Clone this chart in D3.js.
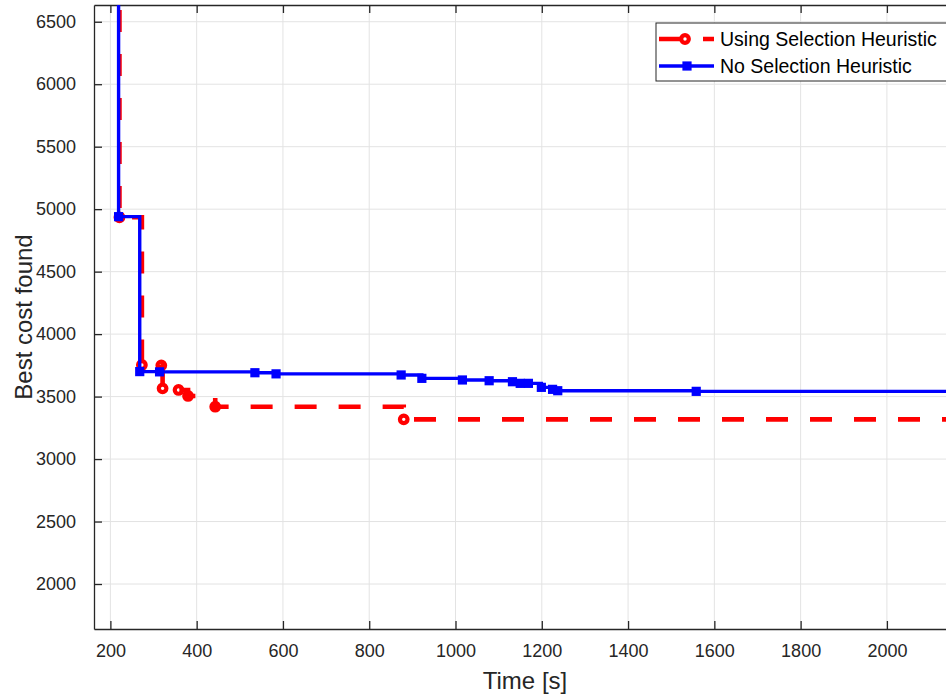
<!DOCTYPE html>
<html>
<head>
<meta charset="utf-8">
<script src="https://cdn.jsdelivr.net/npm/d3@7"></script>
<style>
  body { margin: 0; background: #fff; overflow: hidden; }
  svg { display: block; font-family: "Liberation Sans", Arial, sans-serif; }
</style>
</head>
<body>
<div id="chart"></div>
<script>
// data (time in s, best cost)
var seriesNames = ["Using Selection Heuristic", "No Selection Heuristic"];

var selTime = [220, 221, 273, 318, 321, 358, 380, 443, 880];
var selCost = [8000, 4935, 3753, 3750, 3566, 3553, 3505, 3419, 3318];

var noSelTime = [217, 219, 268, 314, 535, 584, 874, 922, 1016, 1078, 1132, 1150, 1169, 1199, 1225, 1237, 1558];
var noSelCost = [8000, 4940, 3700, 3698, 3691, 3682, 3673, 3646, 3633, 3627, 3619, 3606, 3606, 3574, 3558, 3547, 3542];

var xTicks = [200, 400, 600, 800, 1000, 1200, 1400, 1600, 1800, 2000];
var yTicks = [2000, 2500, 3000, 3500, 4000, 4500, 5000, 5500, 6000, 6500];

var W = 946, H = 698;
var box = {left: 94, right: 946, top: 5, bottom: 629};
var axisColor = "#262626", gridColor = "#e3e3e3";

var svg = d3.select("#chart").append("svg")
    .attr("width", W)
    .attr("height", H);

var x = d3.scaleLinear().domain([162, 2137]).range([box.left, box.right]);
var y = d3.scaleLinear().domain([1640, 6634]).range([box.bottom, box.top]);

// grid
var grid = svg.append("g");
grid.selectAll(".gx").data(xTicks).enter().append("line")
    .attr("x1", function(d) { return x(d); }).attr("x2", function(d) { return x(d); })
    .attr("y1", box.top).attr("y2", box.bottom)
    .attr("stroke", gridColor).attr("stroke-width", 1);
grid.selectAll(".gy").data(yTicks).enter().append("line")
    .attr("y1", function(d) { return y(d); }).attr("y2", function(d) { return y(d); })
    .attr("x1", box.left).attr("x2", box.right)
    .attr("stroke", gridColor).attr("stroke-width", 1);

// axes (ticks inside, matlab style)
var tickLen = 8;
var fmt = d3.format("d");
var xAxis = svg.append("g")
    .attr("transform", "translate(0," + box.bottom + ")")
    .call(d3.axisBottom(x).tickValues(xTicks).tickFormat(fmt).tickSizeInner(-tickLen).tickSizeOuter(0).tickPadding(15));
var xTop = svg.append("g")
    .attr("transform", "translate(0," + box.top + ")")
    .call(d3.axisTop(x).tickValues(xTicks).tickSizeInner(-tickLen).tickSizeOuter(0).tickFormat(""));
var yAxis = svg.append("g")
    .attr("transform", "translate(" + box.left + ",0)")
    .call(d3.axisLeft(y).tickValues(yTicks).tickFormat(fmt).tickSizeInner(-tickLen).tickSizeOuter(0).tickPadding(18));

[xAxis, xTop, yAxis].forEach(function(a) {
  a.select(".domain").attr("stroke", axisColor).attr("stroke-width", 1.3);
  a.selectAll(".tick line").attr("stroke", axisColor).attr("stroke-width", 1.3);
  a.selectAll(".tick text").attr("fill", axisColor).style("font-size", "18px");
});
xAxis.selectAll(".tick text").attr("dy", "0.71em");

// clip to plot area
svg.append("clipPath").attr("id", "plotclip")
  .append("rect")
    .attr("x", box.left).attr("y", box.top)
    .attr("width", box.right - box.left).attr("height", box.bottom - box.top);

var plot = svg.append("g").attr("clip-path", "url(#plotclip)");

var stairs = d3.line()
    .x(function(d) { return x(d[0]); })
    .y(function(d) { return y(d[1]); })
    .curve(d3.curveStepAfter);

var selPts = selTime.map(function(t, i) { return [t, selCost[i]]; });
var noSelPts = noSelTime.map(function(t, i) { return [t, noSelCost[i]]; });

// last step runs on to the end of the axis
var xEnd = x.domain()[1];
var selLine = selPts.concat([[xEnd, selCost[selCost.length - 1]]]);
var noSelLine = noSelPts.concat([[xEnd, noSelCost[noSelCost.length - 1]]]);

plot.append("path")
    .datum(selLine)
    .attr("d", stairs)
    .attr("fill", "none")
    .attr("stroke", "#ff0000")
    .attr("stroke-width", 4.6)
    .attr("stroke-dasharray", "22,22");

plot.selectAll(".selmark").data(selPts.slice(1)).enter().append("circle")
    .attr("cx", function(d) { return x(d[0]); })
    .attr("cy", function(d) { return y(d[1]); })
    .attr("r", 3.8)
    .attr("fill", "none")
    .attr("stroke", "#ff0000")
    .attr("stroke-width", 4.2);

plot.append("path")
    .datum(noSelLine)
    .attr("d", stairs)
    .attr("fill", "none")
    .attr("stroke", "#0000ff")
    .attr("stroke-width", 3.4);

plot.selectAll(".nosmark").data(noSelPts.slice(1)).enter().append("rect")
    .attr("x", function(d) { return x(d[0]) - 4.6; })
    .attr("y", function(d) { return y(d[1]) - 4.6; })
    .attr("width", 9.2).attr("height", 9.2)
    .attr("fill", "#0000ff");

// axis labels
svg.append("text")
    .attr("x", 525)
    .attr("y", 689)
    .attr("text-anchor", "middle")
    .attr("fill", axisColor)
    .style("font-size", "24px")
    .text("Time [s]");

svg.append("text")
    .attr("transform", "translate(32," + (box.top + box.bottom) / 2 + ") rotate(-90)")
    .attr("text-anchor", "middle")
    .attr("fill", axisColor)
    .style("font-size", "24px")
    .text("Best cost found");

// legend
var leg = svg.append("g").attr("transform", "translate(656,23)");
leg.append("rect")
    .attr("x", 0).attr("y", 0)
    .attr("width", 300).attr("height", 58)
    .attr("fill", "#fff")
    .attr("stroke", axisColor).attr("stroke-width", 1);

var legRows = [
  {name: seriesNames[0], color: "#ff0000", dy: 16},
  {name: seriesNames[1], color: "#0000ff", dy: 43}
];
legRows.forEach(function(r, i) {
  var line = leg.append("line")
      .attr("x1", 3).attr("x2", 58)
      .attr("y1", r.dy).attr("y2", r.dy)
      .attr("stroke", r.color);
  if (i === 0) {
    line.attr("stroke-width", 4.6).attr("stroke-dasharray", "22,22");
    leg.append("circle").attr("cx", 29).attr("cy", r.dy).attr("r", 3.8)
        .attr("fill", "none").attr("stroke", r.color).attr("stroke-width", 4.2);
  } else {
    line.attr("stroke-width", 3.4);
    leg.append("rect").attr("x", 31 - 4.6).attr("y", r.dy - 4.6)
        .attr("width", 9.2).attr("height", 9.2).attr("fill", r.color);
  }
  leg.append("text")
      .attr("x", 64).attr("y", r.dy)
      .attr("dy", "0.35em")
      .attr("fill", "#000")
      .style("font-size", "19.5px")
      .text(r.name);
});
</script>
</body>
</html>
